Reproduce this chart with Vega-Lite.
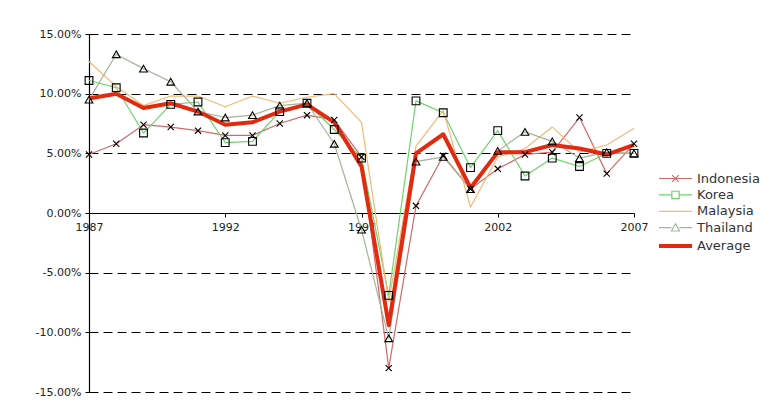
{
  "$schema": "https://vega.github.io/schema/vega-lite/v6.json",
  "width": 545,
  "height": 358,
  "autosize": {"type": "none"},
  "padding": {"left": 89, "top": 34, "right": 128, "bottom": 17},
  "background": "white",
  "config": {
    "view": {"stroke": null},
    "font": "DejaVu Sans",
    "axis": {"labelFont": "DejaVu Sans", "labelFontSize": 11, "labelColor": "#222", "domainColor": "black", "tickColor": "black"}
  },
  "datasets": {
    "growth": [
      {"year":1987,"series":"Indonesia","v":4.9},{"year":1988,"series":"Indonesia","v":5.8},{"year":1989,"series":"Indonesia","v":7.4},{"year":1990,"series":"Indonesia","v":7.2},{"year":1991,"series":"Indonesia","v":6.9},{"year":1992,"series":"Indonesia","v":6.5},{"year":1993,"series":"Indonesia","v":6.5},{"year":1994,"series":"Indonesia","v":7.5},{"year":1995,"series":"Indonesia","v":8.2},{"year":1996,"series":"Indonesia","v":7.8},{"year":1997,"series":"Indonesia","v":4.7},{"year":1998,"series":"Indonesia","v":-13.0},{"year":1999,"series":"Indonesia","v":0.6},{"year":2000,"series":"Indonesia","v":4.8},{"year":2001,"series":"Indonesia","v":2.0},{"year":2002,"series":"Indonesia","v":3.7},{"year":2003,"series":"Indonesia","v":4.9},{"year":2004,"series":"Indonesia","v":5.1},{"year":2005,"series":"Indonesia","v":8.0},{"year":2006,"series":"Indonesia","v":3.3},{"year":2007,"series":"Indonesia","v":5.8},
      {"year":1987,"series":"Korea","v":11.1},{"year":1988,"series":"Korea","v":10.5},{"year":1989,"series":"Korea","v":6.7},{"year":1990,"series":"Korea","v":9.1},{"year":1991,"series":"Korea","v":9.3},{"year":1992,"series":"Korea","v":5.9},{"year":1993,"series":"Korea","v":6.0},{"year":1994,"series":"Korea","v":8.5},{"year":1995,"series":"Korea","v":9.2},{"year":1996,"series":"Korea","v":7.0},{"year":1997,"series":"Korea","v":4.6},{"year":1998,"series":"Korea","v":-6.9},{"year":1999,"series":"Korea","v":9.4},{"year":2000,"series":"Korea","v":8.4},{"year":2001,"series":"Korea","v":3.8},{"year":2002,"series":"Korea","v":6.9},{"year":2003,"series":"Korea","v":3.1},{"year":2004,"series":"Korea","v":4.6},{"year":2005,"series":"Korea","v":3.9},{"year":2006,"series":"Korea","v":5.0},{"year":2007,"series":"Korea","v":5.0},
      {"year":1987,"series":"Malaysia","v":12.7},{"year":1988,"series":"Malaysia","v":10.6},{"year":1989,"series":"Malaysia","v":9.0},{"year":1990,"series":"Malaysia","v":9.8},{"year":1991,"series":"Malaysia","v":9.8},{"year":1992,"series":"Malaysia","v":8.9},{"year":1993,"series":"Malaysia","v":9.8},{"year":1994,"series":"Malaysia","v":9.2},{"year":1995,"series":"Malaysia","v":9.7},{"year":1996,"series":"Malaysia","v":10.0},{"year":1997,"series":"Malaysia","v":7.6},{"year":1998,"series":"Malaysia","v":-7.4},{"year":1999,"series":"Malaysia","v":5.6},{"year":2000,"series":"Malaysia","v":8.6},{"year":2001,"series":"Malaysia","v":0.5},{"year":2002,"series":"Malaysia","v":4.7},{"year":2003,"series":"Malaysia","v":5.4},{"year":2004,"series":"Malaysia","v":7.2},{"year":2005,"series":"Malaysia","v":5.1},{"year":2006,"series":"Malaysia","v":5.7},{"year":2007,"series":"Malaysia","v":7.1},
      {"year":1987,"series":"Thailand","v":9.5},{"year":1988,"series":"Thailand","v":13.3},{"year":1989,"series":"Thailand","v":12.1},{"year":1990,"series":"Thailand","v":11.0},{"year":1991,"series":"Thailand","v":8.5},{"year":1992,"series":"Thailand","v":8.0},{"year":1993,"series":"Thailand","v":8.2},{"year":1994,"series":"Thailand","v":9.0},{"year":1995,"series":"Thailand","v":9.2},{"year":1996,"series":"Thailand","v":5.8},{"year":1997,"series":"Thailand","v":-1.4},{"year":1998,"series":"Thailand","v":-10.5},{"year":1999,"series":"Thailand","v":4.3},{"year":2000,"series":"Thailand","v":4.7},{"year":2001,"series":"Thailand","v":2.0},{"year":2002,"series":"Thailand","v":5.2},{"year":2003,"series":"Thailand","v":6.8},{"year":2004,"series":"Thailand","v":6.0},{"year":2005,"series":"Thailand","v":4.6},{"year":2006,"series":"Thailand","v":5.1},{"year":2007,"series":"Thailand","v":5.0},
      {"year":1987,"series":"Average","v":9.6},{"year":1988,"series":"Average","v":10.0},{"year":1989,"series":"Average","v":8.8},{"year":1990,"series":"Average","v":9.2},{"year":1991,"series":"Average","v":8.5},{"year":1992,"series":"Average","v":7.4},{"year":1993,"series":"Average","v":7.6},{"year":1994,"series":"Average","v":8.5},{"year":1995,"series":"Average","v":9.1},{"year":1996,"series":"Average","v":7.6},{"year":1997,"series":"Average","v":3.9},{"year":1998,"series":"Average","v":-9.4},{"year":1999,"series":"Average","v":5.0},{"year":2000,"series":"Average","v":6.6},{"year":2001,"series":"Average","v":2.1},{"year":2002,"series":"Average","v":5.1},{"year":2003,"series":"Average","v":5.1},{"year":2004,"series":"Average","v":5.7},{"year":2005,"series":"Average","v":5.4},{"year":2006,"series":"Average","v":4.9},{"year":2007,"series":"Average","v":5.7}
    ]
  },
  "data": {"name": "growth"},
  "encoding": {
    "x": {
      "field": "year", "type": "quantitative",
      "scale": {"domain": [1987, 2007], "nice": false, "zero": false},
      "axis": {"title": null, "values": [1987, 1992, 1997, 2002, 2007], "format": "d", "offset": -179, "grid": false, "tickSize": 4, "labelPadding": 4, "labelFlush": false, "labelOverlap": false, "domainWidth": 1.2}
    },
    "y": {
      "field": "v", "type": "quantitative",
      "scale": {"domain": [-15, 15], "nice": false},
      "axis": {"title": null, "values": [-15, -10, -5, 0, 5, 10, 15], "labelExpr": "replace(format(datum.value, '.2f'), '\u2212', '-') + '%'", "grid": true, "gridColor": "black", "gridDash": [9, 5], "gridWidth": 1, "gridOpacity": 1, "tickSize": 4, "labelPadding": 4, "labelFlush": false, "domainWidth": 1.2}
    }
  },
  "layer": [
    {
      "transform": [{"filter": "datum.series !== 'Average'"}],
      "mark": {"type": "line", "strokeWidth": 1.2, "strokeJoin": "round"},
      "encoding": {
        "color": {
          "field": "series", "type": "nominal",
          "scale": {"domain": ["Indonesia", "Korea", "Malaysia", "Thailand", "Average"], "range": ["#d06a6a", "#6ed36e", "#f4b877", "#a3b59b", "#e22a10"]},
          "legend": {
            "title": null, "orient": "none", "legendX": 580, "legendY": 138,
            "symbolSize": 1100, "symbolStrokeWidth": 1.2,
            "labelFont": "DejaVu Sans", "labelFontSize": 13, "labelColor": "#333", "labelOffset": 15, "rowPadding": 2.4,
            "encode": {
              "symbols": {
                "update": {
                  "shape": {"signal": "datum.value === 'Indonesia' ? 'M-1,0L1,0M-0.2,-0.2L0.2,0.2M0.2,-0.2L-0.2,0.2' : datum.value === 'Korea' ? 'M-1,0L-0.22,0M0.22,0L1,0M-0.22,-0.22L0.22,-0.22L0.22,0.22L-0.22,0.22Z' : datum.value === 'Thailand' ? 'M-1,0L-0.24,0M0.24,0L1,0M0,-0.24L0.24,0.2L-0.24,0.2Z' : 'M-1,0L1,0'"},
                  "strokeWidth": {"signal": "datum.value === 'Average' ? 4 : 1.2"},
                  "fill": {"value": "transparent"}
                }
              }
            }
          }
        },
        "detail": {"field": "series"}
      }
    },
    {
      "transform": [{"filter": "datum.series === 'Average'"}],
      "mark": {"type": "line", "strokeWidth": 4, "strokeJoin": "round"},
      "encoding": {
        "color": {"field": "series", "type": "nominal"}
      }
    },
    {
      "transform": [{"filter": "datum.series === 'Indonesia' || datum.series === 'Korea' || datum.series === 'Thailand'"}],
      "mark": {"type": "point", "filled": false, "stroke": "black", "strokeWidth": 1.1, "size": 60, "opacity": 1},
      "encoding": {
        "shape": {
          "field": "series", "type": "nominal",
          "scale": {"domain": ["Indonesia", "Korea", "Thailand"], "range": ["M-0.8,-0.8L0.8,0.8M0.8,-0.8L-0.8,0.8", "square", "triangle-up"]},
          "legend": null
        }
      }
    }
  ]
}
